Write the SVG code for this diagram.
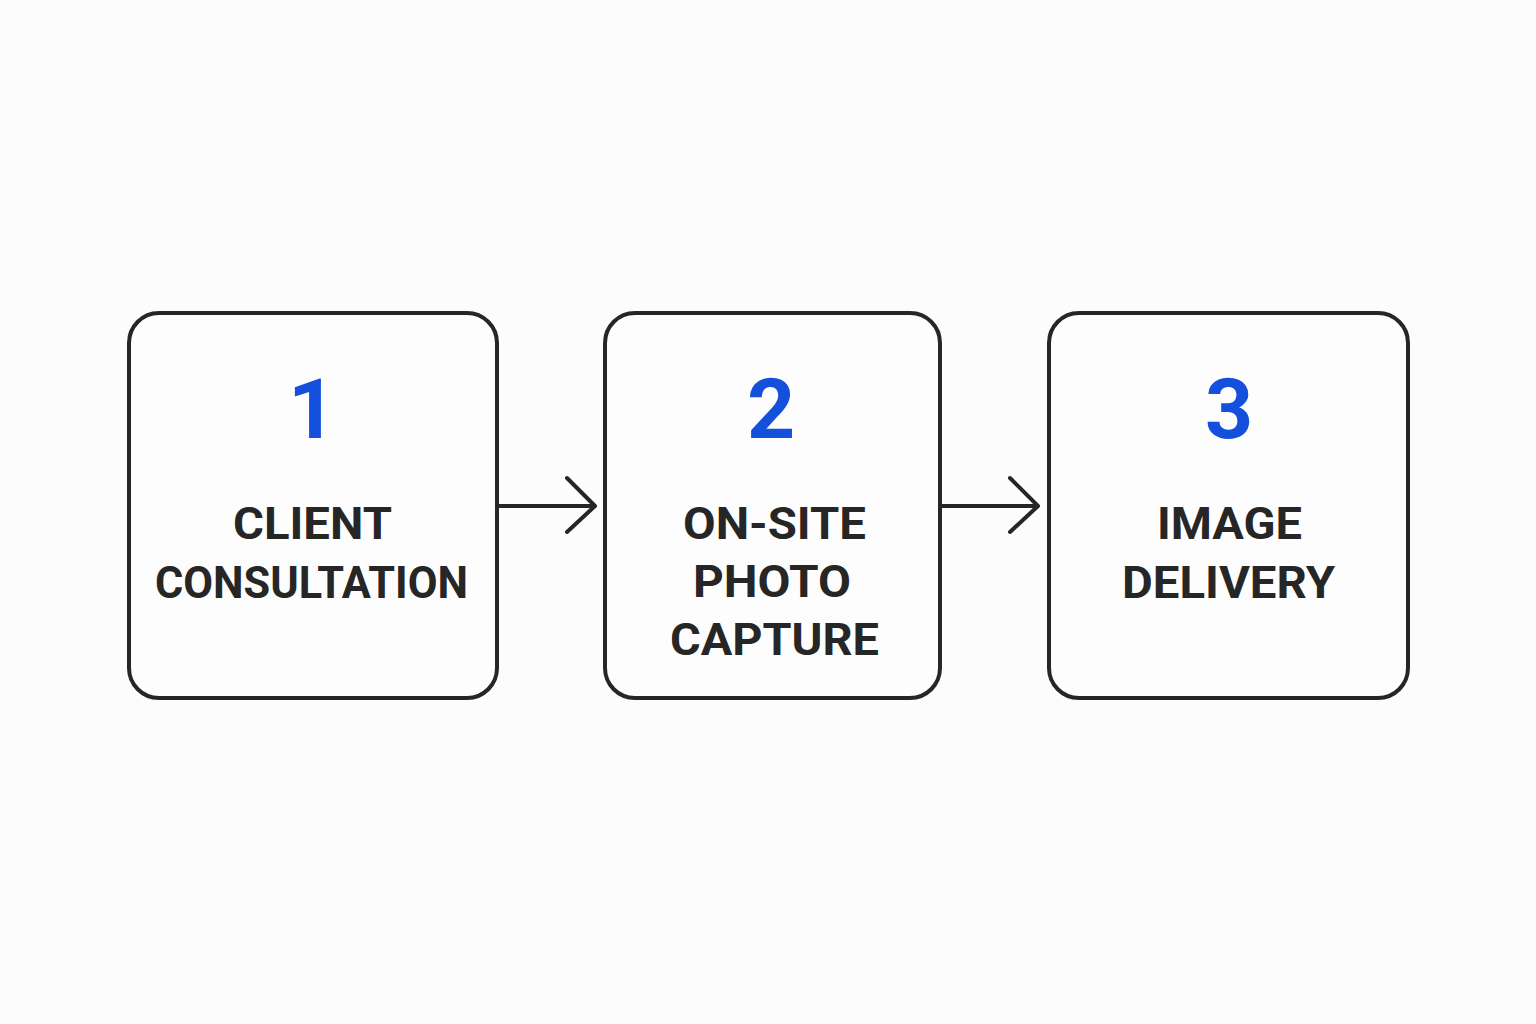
<svg xmlns="http://www.w3.org/2000/svg" width="1536" height="1024" viewBox="0 0 1536 1024">
<defs>
<style>
.box{fill:#fdfdfd;stroke:#262626;stroke-width:4}
.num{font-family:Roboto,"Liberation Sans",sans-serif;font-weight:700;font-size:84px;fill:#1450dc;text-anchor:middle}
.lbl{font-family:Roboto,"Liberation Sans",sans-serif;font-weight:700;font-size:45px;fill:#262626;text-anchor:middle}
.con{fill:none;stroke:#262626;stroke-width:4;stroke-linecap:round;stroke-linejoin:round}
</style>
</defs>
<rect width="1536" height="1024" fill="#fcfcfc"/>
<g id="node1">
<rect class="box" x="129" y="313" width="368" height="385" rx="30"/>
<text class="num" x="312" y="438">1</text>
<text class="lbl" x="312.5" y="539" textLength="159" lengthAdjust="spacingAndGlyphs">CLIENT</text>
<text class="lbl" x="311.5" y="598" textLength="313" lengthAdjust="spacingAndGlyphs">CONSULTATION</text>
</g>
<g id="node2">
<rect class="box" x="605" y="313" width="335" height="385" rx="30"/>
<text class="num" x="771" y="438">2</text>
<text class="lbl" x="774.5" y="539" textLength="183" lengthAdjust="spacingAndGlyphs">ON-SITE</text>
<text class="lbl" x="772" y="597" textLength="158" lengthAdjust="spacingAndGlyphs">PHOTO</text>
<text class="lbl" x="774.5" y="655" textLength="209" lengthAdjust="spacingAndGlyphs">CAPTURE</text>
</g>
<g id="node3">
<rect class="box" x="1049" y="313" width="359" height="385" rx="30"/>
<text class="num" x="1229" y="438">3</text>
<text class="lbl" x="1229.5" y="539" textLength="145" lengthAdjust="spacingAndGlyphs">IMAGE</text>
<text class="lbl" x="1228.5" y="598" textLength="213" lengthAdjust="spacingAndGlyphs">DELIVERY</text>
</g>
<g id="connectors">
<path class="con" d="M497 506H595M567 478L595 506L567 532"/>
<path class="con" d="M940 506H1038M1010 478L1038 506L1010 532"/>
</g>
</svg>
